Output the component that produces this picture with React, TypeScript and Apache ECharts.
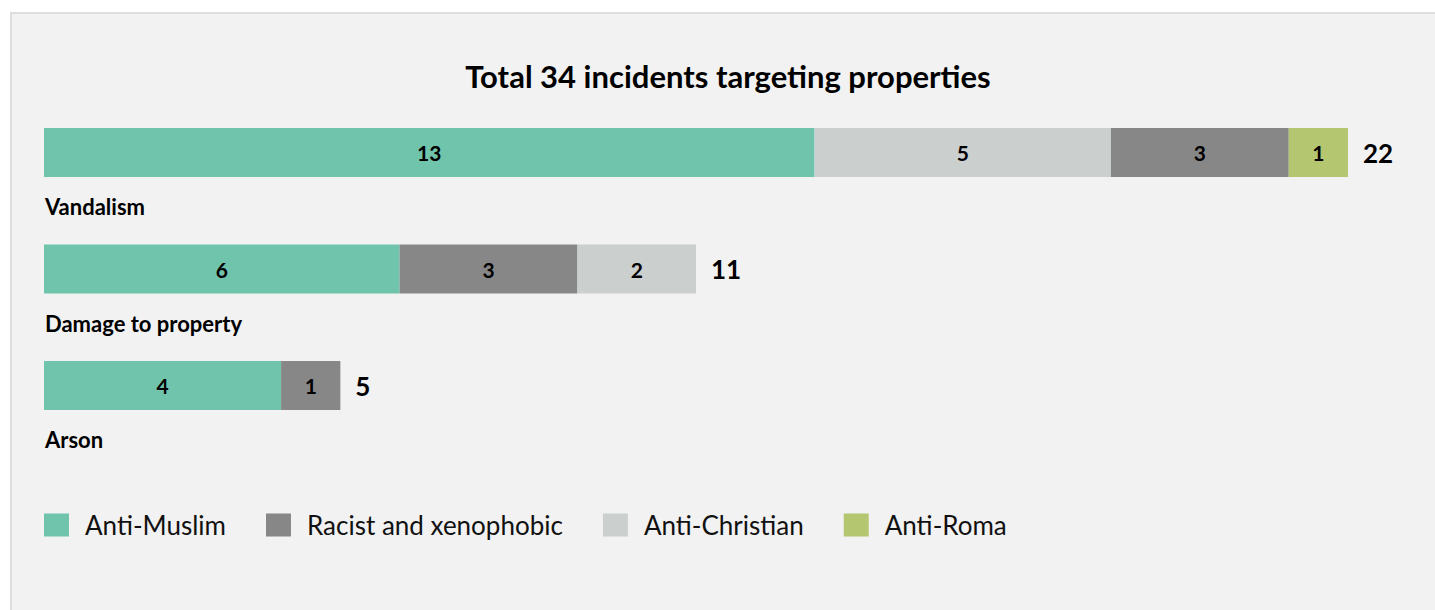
import React, { useEffect, useRef } from "react";
import * as echarts from "echarts";

const categories = ["Vandalism", "Damage to property", "Arson"];
const groups = ["Anti-Muslim", "Racist and xenophobic", "Anti-Christian", "Anti-Roma"];
const groupColors = ["#70c4ac", "#878787", "#cbcfce", "#b4c670"];
// stacking order and values per row, as drawn left to right
const vandalismOrder = ["Anti-Muslim", "Anti-Christian", "Racist and xenophobic", "Anti-Roma"];
const vandalismValues = [13, 5, 3, 1];
const damageOrder = ["Anti-Muslim", "Racist and xenophobic", "Anti-Christian"];
const damageValues = [6, 3, 2];
const arsonOrder = ["Anti-Muslim", "Racist and xenophobic"];
const arsonValues = [4, 1];
const totals = [22, 11, 5];
const chartTitle = "Total 34 incidents targeting properties";

const FONT = "Lato";

export default function App() {
  const ref = useRef<HTMLDivElement>(null);
  useEffect(() => {
    if (!ref.current) return;
    const chart = echarts.init(ref.current, null, { renderer: "svg" });
    const rows = [
      { order: vandalismOrder, values: vandalismValues },
      { order: damageOrder, values: damageValues },
      { order: arsonOrder, values: arsonValues },
    ];
    const slots = Math.max(...rows.map((r) => r.order.length));
    const barSeries: any[] = [];
    for (let k = 0; k < slots; k++) {
      barSeries.push({
        type: "bar",
        name: "slot" + k,
        stack: "total",
        barWidth: 49,
        data: rows.map((r) => {
          if (k >= r.order.length) return { value: 0 };
          const gi = groups.indexOf(r.order[k]);
          return { value: r.values[k], name: r.order[k], itemStyle: { color: groupColors[gi] } };
        }),
        label: {
          show: true,
          position: "inside",
          fontFamily: FONT,
          fontWeight: "bold",
          fontSize: 21,
          color: "#000",
          formatter: (p: any) => (p.value ? String(p.value) : ""),
        },
        emphasis: { disabled: true },
      });
    }
    const legendSeries = groups.map((g, i) => ({
      type: "line",
      name: g,
      data: [],
      itemStyle: { color: groupColors[i] },
      lineStyle: { color: groupColors[i] },
    }));
    const totalSeries = {
      type: "scatter",
      name: "totals",
      symbolSize: 0,
      data: totals.map((t, i) => [t, i]),
      itemStyle: { opacity: 1 },
      label: {
        show: true,
        position: "right",
        distance: 15,
        fontFamily: FONT,
        fontWeight: 700,
        fontSize: 26,
        color: "#000",
        formatter: (p: any) => String(p.value[0]),
      },
      emphasis: { disabled: true },
    };
    const categoryLabelSeries = {
      type: "scatter",
      name: "categoryLabels",
      symbolSize: 0,
      data: categories.map((c, i) => ({ value: [0, i], name: c })),
      itemStyle: { opacity: 1 },
      label: {
        show: true,
        position: "right",
        distance: 1,
        offset: [0, 54],
        fontFamily: FONT,
        fontWeight: "bold",
        fontSize: 22,
        color: "#000",
        formatter: (p: any) => p.name,
      },
      emphasis: { disabled: true },
    };
    chart.setOption({
      animation: false,
      backgroundColor: "#ffffff",
      graphic: [
        {
          type: "rect",
          shape: { x: 11, y: 13, width: 1500, height: 700 },
          style: { fill: "#f2f2f2", stroke: "#dedede", lineWidth: 2 },
          z: -10,
          silent: true,
        },
        {
          type: "text",
          x: 728,
          y: 76,
          style: {
            text: chartTitle,
            fontFamily: FONT,
            fontWeight: "bold",
            fontSize: 31,
            fill: "#000",
            textAlign: "center",
            textVerticalAlign: "middle",
          },
          silent: true,
        },
      ],
      grid: { left: 44, top: 94.25, width: 1304, height: 349.5 },
      xAxis: { type: "value", min: 0, max: 22, show: false },
      yAxis: {
        type: "category",
        data: categories,
        inverse: true,
        axisLine: { show: false },
        axisTick: { show: false },
        splitLine: { show: false },
        axisLabel: { show: false },
      },
      legend: {
        data: groups,
        left: 44,
        top: 512,
        padding: 0,
        icon: "rect",
        itemWidth: 25,
        itemHeight: 23,
        itemGap: 40,
        selectedMode: false,
        textStyle: { fontFamily: FONT, fontSize: 26, color: "#111", padding: [0, 0, 0, 11] },
      },
      tooltip: { show: false },
      series: [...barSeries, totalSeries, categoryLabelSeries, ...legendSeries],
    });
    return () => chart.dispose();
  }, []);
  return (
    <div
      ref={ref}
      style={{ position: "absolute", left: 0, top: 0, width: 1435, height: 610 }}
    />
  );
}
